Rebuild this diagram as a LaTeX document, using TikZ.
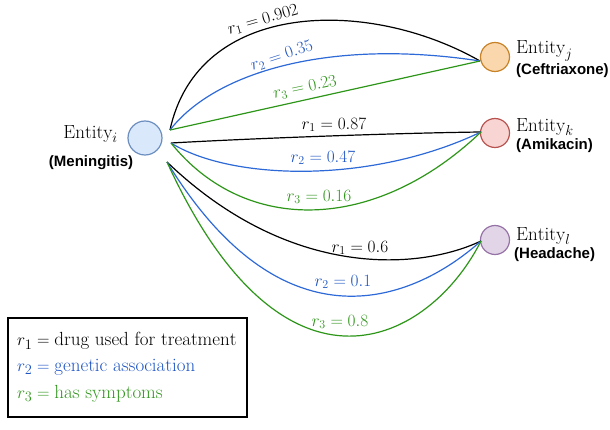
\documentclass[tikz,border=0pt]{standalone}
\usepackage{fontspec}
\newfontfamily\arialb{Liberation Sans}[BoldFont={Liberation Sans Bold}]
\definecolor{eblue}{RGB}{45,105,215}
\definecolor{egreen}{RGB}{45,150,25}
\definecolor{lblue}{RGB}{30,85,195}
\definecolor{lgreen}{RGB}{50,150,30}
\tikzset{
  ent/.style={circle, minimum size=#1, inner sep=0pt, line width=1.2pt},
  elabel/.style={inner sep=0pt, font=\fontsize{19}{22}\selectfont},
  nlabel/.style={inner sep=0pt, font=\fontsize{15}{18}\selectfont\arialb\bfseries},
  rlab/.style={inner sep=0pt, font=\fontsize{17.5}{20}\selectfont},
  glab/.style={inner sep=0pt, font=\fontsize{19}{22}\selectfont},
  edge/.style={line width=1.2pt},
}
\begin{document}
\begin{tikzpicture}[x=1pt,y=-1pt]
\useasboundingbox (0,0) rectangle (610,430);
% nodes
\node[ent=34, draw={rgb,255:red,108;green,142;blue,191}, fill={rgb,255:red,218;green,232;blue,252}] (ei) at (145,138) {};
\node[ent=29, draw={rgb,255:red,200;green,130;blue,40}, fill={rgb,255:red,250;green,215;blue,172}] (ej) at (495,57) {};
\node[ent=29, draw={rgb,255:red,184;green,84;blue,80}, fill={rgb,255:red,248;green,212;blue,210}] (ek) at (495,133) {};
\node[ent=29, draw={rgb,255:red,150;green,115;blue,166}, fill={rgb,255:red,225;green,213;blue,231}] (el) at (495,240) {};
% endpoints
\coordinate (si1) at (170,130);
\coordinate (si2) at (171,143);
\coordinate (si3) at (167,162);
\coordinate (tj) at (480,61);
\coordinate (tk) at (481,132);
\coordinate (tl) at (481,241);
% entity labels
\node[elabel, anchor=east] (li) at (118,134) {$\mathrm{Entity}_i$};
\node[nlabel] (ni) at (91,163) {(Meningitis)};
\node[elabel, anchor=west] (lj) at (516,51) {$\mathrm{Entity}_j$};
\node[nlabel, anchor=west] (nj) at (516,71) {(Ceftriaxone)};
\node[elabel, anchor=west] (lk) at (516,127) {$\mathrm{Entity}_k$};
\node[nlabel, anchor=west] (nk) at (516,146) {(Amikacin)};
\node[elabel, anchor=west] (ll) at (516,236) {$\mathrm{Entity}_l$};
\node[nlabel, anchor=west] (nl) at (514,255) {(Headache)};
% edges to j
\draw[edge, black] (si1) .. controls (198,0) and (368,-3) .. (tj);
\draw[edge, eblue] (si1) .. controls (215,72) and (330,38) .. (tj);
\draw[edge, egreen] (si1) -- (tj);
% edges to k
\draw[edge, black] (si2) .. controls (260,138) and (400,133) .. (tk);
\draw[edge, eblue] (si2) .. controls (230,180) and (370,185) .. (tk);
\draw[edge, egreen] (si2) .. controls (245,235) and (375,233) .. (tk);
% edges to l
\draw[edge, black] (si3) .. controls (290,280) and (420,270) .. (tl);
\draw[edge, eblue] (si3) .. controls (285,355) and (415,300) .. (tl);
\draw[edge, egreen] (si3) .. controls (285,420) and (430,342) .. (tl);
% edge labels
\node[rlab, black, rotate=16] (a1) at (263,20) {$r_1 = 0.902$};
\node[rlab, lblue, rotate=18] (a2) at (282,56) {$r_2 = 0.35$};
\node[rlab, lgreen, rotate=12] (a3) at (305,88) {$r_3 = 0.23$};
\node[rlab, black] (b1) at (334,125) {$r_1 = 0.87$};
\node[rlab, lblue] (b2) at (323,158) {$r_2 = 0.47$};
\node[rlab, lgreen] (b3) at (319,197) {$r_3 = 0.16$};
\node[rlab, black] (c1) at (360,248) {$r_1 = 0.6$};
\node[rlab, lblue] (c2) at (343,282) {$r_2 = 0.1$};
\node[rlab, lgreen] (c3) at (340,322) {$r_3 = 0.8$};
% legend
\draw[line width=1.2pt] (8,318) rectangle (247,417);
\node[glab, anchor=west, black] (g1) at (17,341) {$r_1 = \mathrm{drug\ used\ for\ treatment}$};
\node[glab, anchor=west, lblue] (g2) at (17,367) {$r_2 = \mathrm{genetic\ association}$};
\node[glab, anchor=west, lgreen] (g3) at (17,394) {$r_3 = \mathrm{has\ symptoms}$};
\end{tikzpicture}
\end{document}
